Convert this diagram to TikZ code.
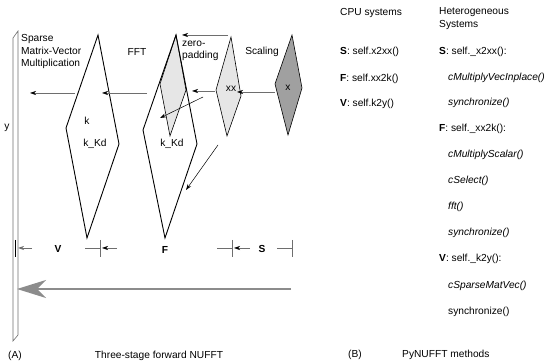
\documentclass[tikz,border=0pt]{standalone}
\usepackage{fontspec}
\setmainfont{Liberation Sans}
\usepackage{xcolor}
\usetikzlibrary{arrows.meta,positioning,calc}

\definecolor{lnclr}{HTML}{6E6E6E}
\definecolor{lgray}{HTML}{E6E6E6}
\definecolor{dgray}{HTML}{A0A0A0}
\definecolor{bigg}{HTML}{8C8C8C}

\begin{document}
\begin{tikzpicture}[x=1pt,y=-1pt,
  every node/.style={font=\fontsize{10.2}{12.5}\selectfont,inner sep=0pt},
  dmd/.style={draw=black,line width=0.9pt,line join=miter},
  thindmd/.style={draw=black,line width=0.6pt},
  arr/.style={draw=lnclr,line width=0.6pt,-{Stealth[length=6pt,width=4pt,black]}},
  darr/.style={draw=black,line width=0.5pt,-{Stealth[length=6pt,width=4pt]}},
  dimln/.style={draw=lnclr,line width=0.7pt}]
  \useasboundingbox (0,0) rectangle (550,363);

  % output bar y
  \draw[lnclr,line width=0.6pt] (13,38) -- (18,31) -- (18,335) -- (13,341) -- cycle;
  \node (ylab) at (7,128) {y};

  % diamonds
  \coordinate (kT) at (98,35);  \coordinate (kL) at (66,128);
  \coordinate (kB) at (87,238); \coordinate (kR) at (119,144);
  \draw[dmd] (kT) -- (kL) -- (kB) -- (kR) -- cycle;
  \coordinate (fT) at (176,35);  \coordinate (fL) at (143,130);
  \coordinate (fB) at (165,238); \coordinate (fR) at (197,144);
  \coordinate (zL) at (160,84);  \coordinate (zB) at (170,136);
  \coordinate (zR) at (186,90);
  \draw[thindmd,fill=lgray] (fT) -- (zL) -- (zB) -- (zR) -- cycle;
  \draw[dmd] (fT) -- (fL) -- (fB) -- (fR) -- cycle;
  \coordinate (xxT) at (231,37);  \coordinate (xxL) at (216,90);
  \coordinate (xxB) at (227,136); \coordinate (xxR) at (241,96);
  \draw[thindmd,fill=lgray] (xxT) -- (xxL) -- (xxB) -- (xxR) -- cycle;
  \coordinate (xT) at (292,35);  \coordinate (xL) at (275,84);
  \coordinate (xB) at (288,135); \coordinate (xR) at (302,88);
  \draw[thindmd,fill=dgray] (xT) -- (xL) -- (xB) -- (xR) -- cycle;

  \node (k) at (87,121) {k};
  \node (kkd1) at (95,144) {k\_Kd};
  \node (kkd2) at (172,144) {k\_Kd};
  \node (xxlab) at (231,89) {xx};
  \node (xlab) at (288,88) {x};

  \node[align=left,anchor=west] (spmv) at (21,52) {Sparse\\Matrix-Vector\\Multiplication};
  \node (fft) at (137,52) {FFT};
  \node[align=left,anchor=west] (zpad) at (182,51) {zero-\\padding};
  \node (scal) at (262,52) {Scaling};

  % stage arrows
  \coordinate (a1) at (228,35); \coordinate (a2) at (182,35);
  \coordinate (b1) at (275,92); \coordinate (b2) at (237,92);
  \coordinate (c1) at (215,91); \coordinate (c2) at (192,91);
  \coordinate (d1) at (147,93); \coordinate (d2) at (102,93);
  \coordinate (e1) at (75,93);  \coordinate (e2) at (30,93);
  \draw[arr] (a1) -- (a2);
  \draw[arr] (b1) -- (b2);
  \draw[arr] (c1) -- (c2);
  \draw[arr] (d1) -- (d2);
  \draw[arr] (e1) -- (e2);
  \coordinate (g1) at (203,97);  \coordinate (g2) at (160,118);
  \coordinate (h1) at (218,145); \coordinate (h2) at (186,190);
  \draw[darr] (g1) -- (g2);
  \draw[darr] (h1) -- (h2);

  % stage ranges
  \draw[black,line width=0.8pt] (15,240) -- (15,257);
  \foreach \t in {100,232,292}
    \draw[dimln] (\t,240) -- (\t,257);
  \draw[dimln,-{Stealth[length=6pt,width=4pt]}] (32,248) -- (18,248);
  \draw[dimln] (85,248) -- (100,248);
  \draw[arr] (117,248) -- (102,248);
  \draw[dimln] (217,248) -- (232,248);
  \draw[arr] (250,248) -- (234,248);
  \draw[dimln] (277,248) -- (292,248);
  \node[font=\fontsize{10.2}{12.5}\selectfont\bfseries] (vst) at (58,249) {V};
  \node[font=\fontsize{10.2}{12.5}\selectfont\bfseries] (fst) at (165,250) {F};
  \node[font=\fontsize{10.2}{12.5}\selectfont\bfseries] (sst) at (262,249) {S};

  % overall direction
  \coordinate (bigR) at (291,289); \coordinate (bigL) at (17,289);
  \draw[bigg,line width=2pt,-{Stealth[length=29pt,width=18pt,inset=9pt]}] (bigR) -- (bigL);

  \node (capA) at (15,356) {(A)};
  \node (titA) at (159,356) {Three-stage forward NUFFT};

  % methods
  \node[anchor=west] (cpu) at (340,13) {CPU systems};
  \node[anchor=west,align=left] (het) at (439,18.5) {Heterogeneous\\Systems};
  \node[anchor=west] (s1) at (340,52) {\textbf{S}: self.x2xx()};
  \node[anchor=west] (f1) at (340,79) {\textbf{F}: self.xx2k()};
  \node[anchor=west] (v1) at (340,104) {\textbf{V}: self.k2y()};
  \node[anchor=west] (s2) at (439,52) {\textbf{S}: self.\_x2xx():};
  \node[anchor=west] (m1) at (448,78) {\itshape cMultiplyVecInplace()};
  \node[anchor=west] (m2) at (448,103) {\itshape synchronize()};
  \node[anchor=west] (f2) at (439,129) {\textbf{F}: self.\_xx2k():};
  \node[anchor=west] (m3) at (448,155) {\itshape cMultiplyScalar()};
  \node[anchor=west] (m4) at (448,181) {\itshape cSelect()};
  \node[anchor=west] (m5) at (448,207) {\itshape fft()};
  \node[anchor=west] (m6) at (448,233) {\itshape synchronize()};
  \node[anchor=west] (v2) at (439,259) {\textbf{V}: self.\_k2y():};
  \node[anchor=west] (m7) at (448,286) {\itshape cSparseMatVec()};
  \node[anchor=west] (m8) at (448,312) {synchronize()};
  \node (capB) at (355,355) {(B)};
  \node[anchor=west] (titB) at (402,355) {PyNUFFT methods};
\end{tikzpicture}
\end{document}
